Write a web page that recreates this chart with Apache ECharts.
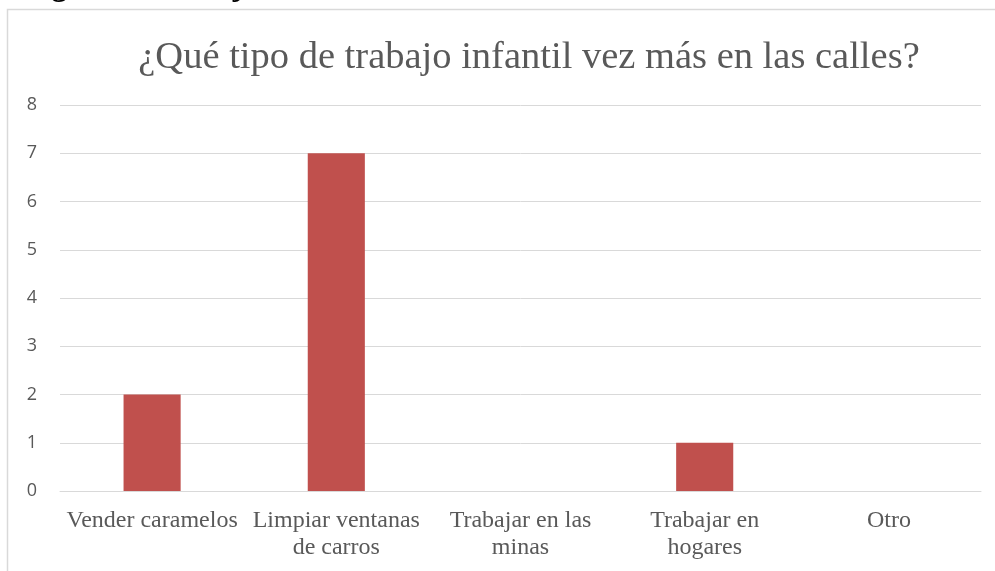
<!DOCTYPE html>
<html lang="es">
<head>
    <meta charset="UTF-8">
    <title>Trabajo infantil en las calles</title>
    <style>
        html, body { margin: 0; padding: 0; background: #fff; }
    </style>
</head>
<body>
<div id="main" style="width: 995px;height:571px;"></div>
<script src="https://cdn.jsdelivr.net/npm/echarts@6/dist/echarts.min.js"></script>
<script>
    var categorias = ['Vender caramelos', 'Limpiar ventanas\nde carros', 'Trabajar en las\nminas', 'Trabajar en\nhogares', 'Otro'];
    var valores = [2, 7, 0, 1, 0];
    var ejeY = { min: 0, max: 8, interval: 1 };

    var myChart = echarts.init(document.getElementById('main'));
    var option = {
        backgroundColor: '#ffffff',
        animation: false,
        title: {
            text: '¿Qué tipo de trabajo infantil vez más en las calles?',
            left: 524,
            textAlign: 'center',
            top: 33,
            textStyle: {
                fontFamily: 'Liberation Serif',
                fontWeight: 'normal',
                fontSize: 38.5,
                color: '#595959'
            }
        },
        graphic: [
            {
                // pie de figura cortado arriba
                type: 'text',
                left: 24,
                top: -28.5,
                style: {
                    text: 'Figura 6. Trabajo infantil en las calles',
                    font: 'bold 31px "Liberation Serif"',
                    fill: '#000'
                }
            },
            {
                type: 'rect',
                shape: { x: 7.5, y: 9.5, width: 1100, height: 700 },
                style: { fill: 'none', stroke: '#d9d9d9', lineWidth: 1.5 },
                silent: true
            }
        ],
        grid: {
            left: 60,
            right: 14,
            top: 105,
            bottom: 80
        },
        xAxis: {
            type: 'category',
            data: categorias,
            axisLine: { lineStyle: { color: '#d9d9d9' } },
            axisTick: { show: false },
            axisLabel: {
                interval: 0,
                margin: 16,
                fontFamily: 'Liberation Serif',
                fontSize: 24,
                lineHeight: 27,
                color: '#595959'
            }
        },
        yAxis: {
            type: 'value',
            min: ejeY.min,
            max: ejeY.max,
            interval: ejeY.interval,
            axisLine: { show: false },
            axisTick: { show: false },
            splitLine: { lineStyle: { color: '#d9d9d9', width: 1 } },
            axisLabel: {
                margin: 23,
                fontFamily: 'Open Sans',
                fontSize: 18,
                color: '#595959'
            }
        },
        series: [
            {
                type: 'bar',
                data: valores,
                barWidth: '31%',
                itemStyle: { color: '#c0504d' }
            }
        ]
    };
    myChart.setOption(option);
</script>
</body>
</html>
